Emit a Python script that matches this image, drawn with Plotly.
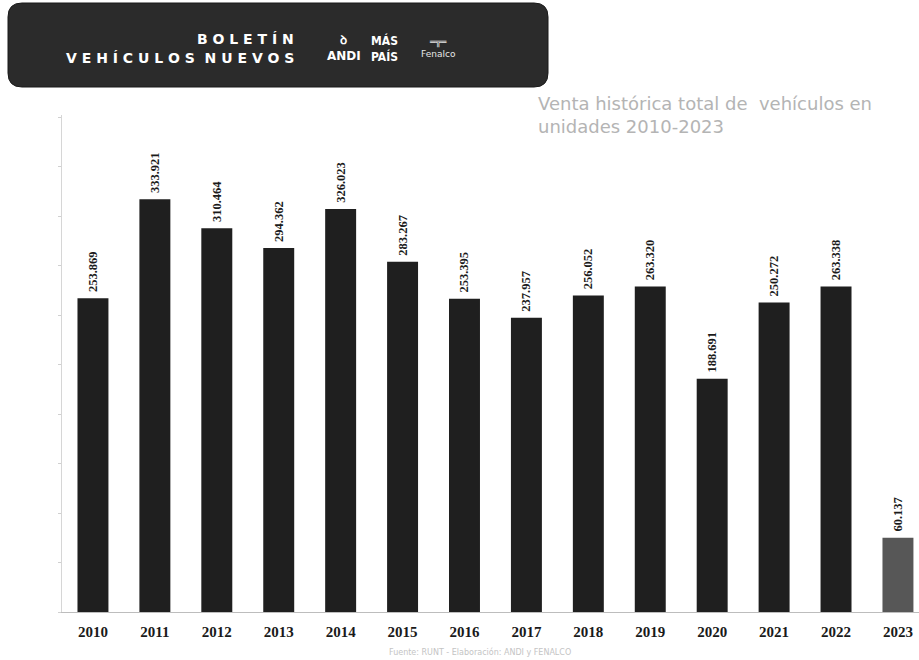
import plotly.graph_objects as go

years = ["2010", "2011", "2012", "2013", "2014", "2015", "2016",
         "2017", "2018", "2019", "2020", "2021", "2022", "2023"]
sales = [253869, 333921, 310464, 294362, 326023, 283267, 253395,
         237957, 256052, 263320, 188691, 250272, 263338, 60137]
bar_colors = ["#1f1f1f"] * 13 + ["#575757"]

W, H = 919, 660


def px(x):
    return x / W


def py(y):
    return 1 - y / H


labels = [" " + f"{v:,}".replace(",", ".") for v in sales]

fig = go.Figure()
fig.add_trace(go.Bar(
    x=years, y=sales, marker=dict(color=bar_colors, line=dict(width=0)),
    text=labels, textposition="outside", textangle=-90,
    constraintext="none", cliponaxis=False,
    textfont=dict(family="Liberation Serif", size=12.5, color="#1a1a1a", weight="bold"),
    hoverinfo="skip", width=0.5,
))

# header banner (rounded rectangle)
x0, x1, y0, y1, r = px(8), px(548), py(87), py(3), 14
rx, ry = r / W, r / H
path = (f"M {x0+rx},{y0} L {x1-rx},{y0} Q {x1},{y0} {x1},{y0+ry} "
        f"L {x1},{y1-ry} Q {x1},{y1} {x1-rx},{y1} L {x0+rx},{y1} "
        f"Q {x0},{y1} {x0},{y1-ry} L {x0},{y0+ry} Q {x0},{y0} {x0+rx},{y0} Z")
shapes = [dict(type="path", path=path, xref="paper", yref="paper",
               fillcolor="#2b2b2b", line=dict(color="#1a1a1a", width=1), layer="below")]

ann = []
hdr_font = dict(family="DejaVu Sans", size=14, color="white", weight="bold")
ann.append(dict(text="B O L E T Í N", x=px(296), y=py(39), xref="paper", yref="paper",
                xanchor="right", yanchor="middle", showarrow=False, font=hdr_font))
ann.append(dict(text="V E H Í C U L O S  N U E V O S", x=px(296), y=py(58), xref="paper", yref="paper",
                xanchor="right", yanchor="middle", showarrow=False, font=hdr_font))
ann.append(dict(text="ꝺ<br>ANDI", x=px(344), y=py(48), xref="paper", yref="paper",
                xanchor="center", yanchor="middle", showarrow=False,
                font=dict(family="DejaVu Sans", size=12, color="white", weight="bold")))
ann.append(dict(text="MÁS<br>PAÍS", x=px(384), y=py(48), xref="paper", yref="paper",
                xanchor="center", yanchor="middle", showarrow=False,
                font=dict(family="DejaVu Sans Condensed", size=12, color="white", weight="bold")))
ann.append(dict(text="═╦═<br>Fenalco", x=px(438), y=py(48), xref="paper", yref="paper",
                xanchor="center", yanchor="middle", showarrow=False,
                font=dict(family="DejaVu Sans", size=9, color="#e8e8e8")))

# title
ann.append(dict(text="Venta histórica total de  vehículos en<br>unidades 2010-2023",
                x=px(536), y=py(115), xref="paper", yref="paper", xanchor="left",
                yanchor="middle", align="left", showarrow=False,
                font=dict(family="DejaVu Sans", size=18, color="#b4b4b4")))
# source
ann.append(dict(text="Fuente: RUNT - Elaboración: ANDI y FENALCO",
                x=px(480), y=py(652), xref="paper", yref="paper", xanchor="center",
                yanchor="middle", showarrow=False,
                font=dict(family="DejaVu Sans", size=8, color="#c4c4c4")))

fig.update_layout(
    width=W, height=H, paper_bgcolor="white", plot_bgcolor="white",
    margin=dict(l=0, r=0, t=0, b=0), showlegend=False,
    shapes=shapes, annotations=ann, bargap=0.5,
    xaxis=dict(domain=[62 / W, 1], range=[-0.5, 13.34], showgrid=False,
               showline=True, linecolor="#bdbdbd", linewidth=1, ticks="",
               ticklabelstandoff=6,
               tickfont=dict(family="Liberation Serif", size=15, color="#1a1a1a", weight="bold"),
               automargin=False, fixedrange=True),
    yaxis=dict(domain=[48 / H, 1 - 115 / H], range=[0, 402000], showgrid=False,
               showline=True, linecolor="#d6d6d6", linewidth=1, ticks="outside",
               ticklen=3, tickcolor="#d0d0d0", dtick=40000, showticklabels=False,
               zeroline=False, automargin=False, fixedrange=True),
)

fig.write_html("out.html", config={"displayModeBar": False},
               post_script="document.body.style.margin='0';document.body.style.overflow='hidden';")
